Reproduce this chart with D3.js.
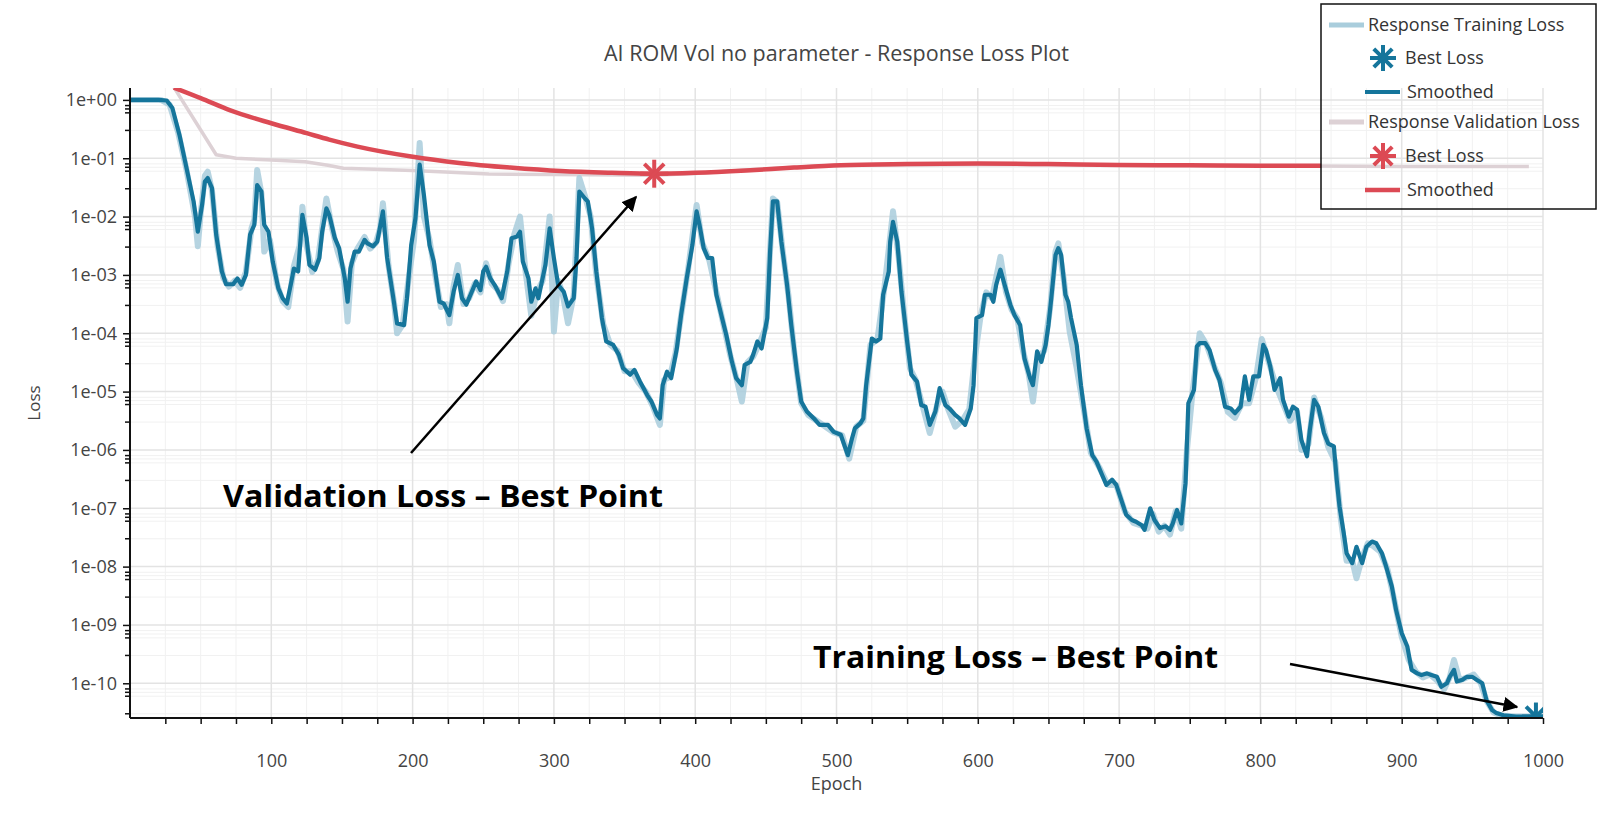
<!DOCTYPE html>
<html>
<head>
<meta charset="utf-8">
<script src="https://cdn.jsdelivr.net/npm/d3@7"></script>
<style>
  html, body { margin: 0; padding: 0; background: #fff; }
  svg { display: block; font-family: 'Open Sans', 'Noto Sans', sans-serif; }
</style>
</head>
<body>
<svg id="chart"></svg>
<script>
// ---- data (loss values stored as log10) ----
const trainEpochs = [0, 10, 20, 26, 30, 35, 40, 45, 48, 51, 53, 55, 58, 61, 65, 68, 73, 76, 79, 82, 85, 88, 90, 93, 95, 98, 101, 105, 108, 111, 114, 116, 119, 122, 125, 127, 131, 134, 136, 139, 141, 145, 148, 152, 154, 156, 159, 162, 166, 168, 172, 175, 179, 182, 186, 189, 194, 196, 199, 202, 205, 208, 212, 215, 219, 222, 226, 229, 232, 235, 238, 241, 245, 248, 250, 252, 255, 258, 263, 267, 270, 274, 276, 278, 282, 284, 287, 289, 291, 294, 297, 300, 303, 307, 310, 314, 316, 318, 322, 324, 327, 330, 334, 337, 342, 346, 349, 354, 357, 361, 366, 369, 373, 375, 377, 380, 383, 387, 390, 394, 398, 401, 403, 406, 409, 412, 415, 419, 422, 426, 429, 433, 435, 439, 441, 444, 447, 451, 453, 455, 458, 461, 465, 468, 472, 475, 479, 484, 488, 494, 498, 503, 508, 511, 513, 517, 519, 521, 525, 528, 531, 533, 537, 538, 540, 543, 546, 550, 553, 557, 560, 563, 566, 570, 573, 577, 580, 584, 587, 591, 595, 597, 599, 603, 605, 609, 611, 613, 616, 619, 623, 626, 630, 633, 637, 639, 642, 645, 648, 650, 652, 655, 657, 659, 662, 664, 666, 670, 673, 677, 681, 684, 688, 691, 695, 698, 702, 705, 709, 712, 716, 718, 722, 725, 729, 733, 736, 738, 741, 744, 747, 749, 753, 755, 757, 761, 764, 768, 771, 775, 779, 782, 786, 789, 792, 795, 799, 802, 804, 807, 810, 814, 816, 820, 823, 826, 829, 833, 835, 838, 841, 845, 848, 852, 854, 856, 859, 861, 865, 868, 872, 875, 879, 882, 886, 889, 893, 896, 900, 904, 907, 911, 914, 918, 921, 925, 928, 932, 934, 937, 939, 943, 946, 950, 953, 957, 960, 964, 967, 972, 981, 991, 1000];
const trainSmoothLog = [0, 0, 0, -0.01, -0.14, -0.6, -1.17, -1.74, -2.26, -1.8, -1.4, -1.34, -1.51, -2.31, -2.94, -3.16, -3.16, -3.06, -3.17, -3.0, -2.31, -2.14, -1.46, -1.57, -2.14, -2.26, -2.77, -3.23, -3.4, -3.49, -3.14, -2.89, -2.94, -1.97, -2.37, -2.83, -2.91, -2.71, -2.26, -1.86, -1.97, -2.37, -2.54, -3.06, -3.46, -2.89, -2.6, -2.6, -2.4, -2.46, -2.51, -2.43, -1.91, -2.71, -3.34, -3.83, -3.86, -3.4, -2.49, -2.03, -1.11, -1.63, -2.49, -2.77, -3.46, -3.49, -3.69, -3.29, -3.0, -3.4, -3.51, -3.34, -3.11, -3.26, -2.94, -2.86, -3.06, -3.17, -3.4, -2.94, -2.37, -2.34, -2.26, -2.77, -3.06, -3.46, -3.23, -3.4, -3.17, -2.83, -2.2, -2.71, -3.17, -3.29, -3.54, -3.4, -2.71, -1.57, -1.69, -1.74, -2.2, -2.94, -3.74, -4.14, -4.2, -4.37, -4.6, -4.71, -4.63, -4.83, -5.06, -5.17, -5.4, -5.46, -4.89, -4.66, -4.77, -4.26, -3.69, -3.06, -2.49, -1.91, -2.14, -2.54, -2.71, -2.71, -3.34, -3.74, -4.03, -4.49, -4.77, -4.89, -4.54, -4.49, -4.37, -4.14, -4.26, -3.74, -2.6, -1.74, -1.74, -2.43, -3.17, -3.86, -4.66, -5.17, -5.34, -5.46, -5.57, -5.57, -5.69, -5.74, -6.09, -5.8, -5.63, -5.54, -5.46, -4.89, -4.09, -4.14, -4.09, -3.34, -2.94, -2.43, -2.09, -2.43, -3.29, -4.14, -4.71, -4.83, -5.23, -5.26, -5.57, -5.34, -4.94, -5.23, -5.29, -5.4, -5.46, -5.57, -5.29, -4.89, -3.74, -3.69, -3.34, -3.34, -3.46, -3.17, -2.91, -3.17, -3.51, -3.69, -3.86, -4.43, -4.77, -4.89, -4.31, -4.49, -4.2, -3.86, -3.4, -2.66, -2.54, -2.66, -3.34, -3.46, -3.74, -4.2, -4.89, -5.63, -6.09, -6.2, -6.43, -6.6, -6.51, -6.6, -6.89, -7.11, -7.2, -7.23, -7.29, -7.37, -7.0, -7.2, -7.34, -7.31, -7.37, -7.26, -7.03, -7.26, -6.57, -5.2, -4.97, -4.23, -4.17, -4.17, -4.29, -4.63, -4.8, -5.26, -5.29, -5.37, -5.26, -4.74, -5.14, -4.74, -4.74, -4.2, -4.29, -4.57, -4.97, -4.77, -5.14, -5.43, -5.26, -5.31, -5.83, -6.11, -5.66, -5.14, -5.26, -5.71, -5.89, -5.94, -6.51, -6.97, -7.43, -7.77, -7.94, -7.66, -7.94, -7.66, -7.57, -7.6, -7.77, -8.0, -8.34, -8.74, -9.14, -9.37, -9.77, -9.83, -9.86, -9.83, -9.86, -9.89, -10.06, -10.0, -9.89, -9.77, -9.97, -9.94, -9.89, -9.89, -9.94, -10.0, -10.29, -10.46, -10.51, -10.55, -10.57, -10.57, -10.57];

const trainRawEpochs = [0, 22, 28, 34, 40, 46, 48, 50, 53, 55, 58, 62, 66, 70, 74, 78, 82, 86, 88, 90, 93, 95, 99, 104, 108, 112, 116, 120, 122, 125, 129, 133, 136, 139, 143, 147, 151, 154, 157, 161, 166, 170, 174, 177, 179, 183, 187, 189, 193, 197, 201, 205, 208, 212, 216, 220, 224, 226, 229, 232, 236, 240, 244, 248, 252, 256, 260, 264, 268, 272, 276, 280, 284, 288, 292, 297, 300, 303, 306, 310, 314, 318, 322, 326, 330, 335, 340, 345, 350, 355, 360, 365, 370, 375, 378, 382, 386, 390, 395, 401, 405, 410, 415, 420, 425, 430, 433, 437, 441, 445, 450, 455, 458, 462, 466, 470, 475, 480, 486, 492, 498, 504, 509, 514, 519, 524, 529, 534, 540, 544, 548, 552, 556, 561, 566, 571, 575, 579, 584, 589, 594, 598, 602, 606, 610, 616, 620, 624, 628, 632, 636, 639, 643, 647, 651, 655, 657, 661, 665, 670, 675, 680, 686, 692, 698, 704, 710, 716, 720, 724, 728, 732, 736, 740, 744, 748, 752, 757, 762, 767, 772, 777, 782, 787, 792, 797, 801, 806, 811, 816, 821, 826, 829, 834, 838, 843, 848, 853, 857, 861, 865, 868, 872, 876, 880, 885, 890, 895, 900, 905, 910, 915, 920, 925, 930, 934, 937, 941, 946, 951, 956, 960, 965, 970, 980, 990, 1000];
const trainRawLog = [0, 0, -0.08, -0.55, -1.2, -2.0, -2.51, -1.95, -1.3, -1.23, -1.55, -2.5, -3.05, -3.2, -3.1, -3.22, -2.95, -2.2, -2.05, -1.2, -1.6, -2.6, -2.4, -3.15, -3.45, -3.55, -2.85, -2.5, -1.83, -2.5, -2.95, -2.75, -2.2, -1.69, -2.2, -2.6, -2.9, -3.8, -2.8, -2.55, -2.35, -2.55, -2.45, -2.2, -1.77, -2.85, -3.5, -4.0, -3.85, -3.1, -2.4, -0.74, -2.0, -2.4, -3.0, -3.55, -3.5, -3.83, -3.2, -2.83, -3.5, -3.4, -3.15, -3.3, -2.8, -3.15, -3.25, -3.45, -2.8, -2.3, -2.0, -2.95, -3.7, -3.3, -3.1, -2.0, -3.97, -3.1, -3.3, -3.83, -3.35, -1.34, -1.65, -2.0, -3.0, -3.85, -4.2, -4.3, -4.65, -4.65, -4.85, -5.0, -5.25, -5.57, -4.8, -4.75, -4.35, -3.7, -2.9, -1.8, -2.45, -2.75, -3.3, -3.85, -4.4, -4.85, -5.17, -4.5, -4.4, -4.2, -3.9, -1.69, -1.75, -2.6, -3.35, -4.3, -5.2, -5.4, -5.5, -5.6, -5.7, -5.75, -6.15, -5.6, -5.5, -4.2, -4.1, -3.2, -1.91, -2.7, -3.7, -4.6, -4.8, -5.25, -5.71, -5.25, -5.0, -5.3, -5.6, -5.5, -5.3, -4.4, -3.7, -3.3, -3.4, -2.69, -3.3, -3.6, -3.75, -4.3, -4.7, -5.17, -4.4, -4.3, -3.6, -2.6, -2.46, -3.1, -3.97, -4.6, -5.3, -6.05, -6.3, -6.6, -6.6, -7.05, -7.25, -7.3, -7.35, -7.1, -7.4, -7.3, -7.45, -7.05, -7.35, -6.0, -5.0, -4.0, -4.2, -4.55, -4.85, -5.35, -5.45, -5.2, -5.2, -4.75, -4.1, -4.5, -4.9, -5.2, -5.5, -5.35, -6.0, -5.9, -5.1, -5.45, -5.95, -6.2, -7.2, -7.9, -7.9, -8.2, -7.85, -7.6, -7.65, -7.75, -8.05, -8.6, -9.2, -9.6, -9.8, -9.9, -9.85, -9.95, -10.1, -9.9, -9.6, -9.95, -9.9, -9.85, -10.0, -10.3, -10.5, -10.55, -10.57, -10.57, -10.57];

const valRawEpochs = [31, 61, 75, 100, 124, 140, 151, 200, 254, 300, 370, 400, 450, 500, 600, 700, 800, 900, 990];
const valRawLog = [0.22, -0.94, -1.0, -1.03, -1.06, -1.12, -1.17, -1.21, -1.27, -1.28, -1.29, -1.26, -1.18, -1.12, -1.11, -1.12, -1.13, -1.14, -1.14];

const valSmoothEpochs = [31, 50, 71, 100, 125, 141, 161, 199, 233, 269, 305, 341, 371, 400, 436, 470, 503, 550, 600, 650, 700, 750, 800, 843];
const valSmoothLog = [0.21, 0.03, -0.18, -0.4, -0.57, -0.68, -0.8, -0.97, -1.08, -1.16, -1.22, -1.25, -1.265, -1.25, -1.21, -1.16, -1.12, -1.1, -1.09, -1.1, -1.115, -1.12, -1.13, -1.13];

const bestTrain = { epoch: 995, log: -10.57 };
const bestVal = { epoch: 371, log: -1.265 };

const xMajorTicks = [100, 200, 300, 400, 500, 600, 700, 800, 900, 1000];
const yDecades = [0, -1, -2, -3, -4, -5, -6, -7, -8, -9, -10];
const yMinorMantissas = [3, 6, 7, 8];

const colors = {
  trainRaw: '#a9cddc',
  train: '#15759b',
  valRaw: '#ddd1d5',
  val: '#dc4a54',
  grid: '#e3e3e3',
  gridMinor: '#f1f1f1',
  text: '#444',
};

// ---- chart ----
const width = 1600;
const height = 813;
const plot = { left: 130, right: 1543, top: 88, bottom: 718 };

const svg = d3.select('#chart').attr('width', width).attr('height', height);

const x = d3.scaleLinear().domain([0, 1000]).range([plot.left, plot.right]);
const y = d3.scaleLog().domain([2.54e-11, 1.6]).range([plot.bottom, plot.top]);

const minorY = [];
yDecades.forEach((d) => {
  yMinorMantissas.forEach((m) => {
    const v = m * Math.pow(10, d - 1);
    if (v >= y.domain()[0] && v <= y.domain()[1]) minorY.push(v);
  });
});
const majorY = yDecades.map((d) => Math.pow(10, d));
const minorX = d3.range(25, 1001, 25).filter((v) => v % 100 !== 0);

svg.append('defs')
  .append('clipPath')
  .attr('id', 'plotClip')
  .append('rect')
  .attr('x', plot.left)
  .attr('y', plot.top)
  .attr('width', plot.right - plot.left)
  .attr('height', plot.bottom - plot.top);

// grid
const grid = svg.append('g');
grid.selectAll('.gx-minor').data(minorX).join('line')
  .attr('x1', (d) => x(d)).attr('x2', (d) => x(d))
  .attr('y1', plot.top).attr('y2', plot.bottom)
  .attr('stroke', colors.gridMinor).attr('stroke-width', 1);
grid.selectAll('.gy-minor').data(minorY).join('line')
  .attr('x1', plot.left).attr('x2', plot.right)
  .attr('y1', (d) => y(d)).attr('y2', (d) => y(d))
  .attr('stroke', colors.gridMinor).attr('stroke-width', 1);
grid.selectAll('.gx').data(xMajorTicks).join('line')
  .attr('x1', (d) => x(d)).attr('x2', (d) => x(d))
  .attr('y1', plot.top).attr('y2', plot.bottom)
  .attr('stroke', colors.grid).attr('stroke-width', 1.5);
grid.selectAll('.gy').data(majorY).join('line')
  .attr('x1', plot.left).attr('x2', plot.right)
  .attr('y1', (d) => y(d)).attr('y2', (d) => y(d))
  .attr('stroke', colors.grid).attr('stroke-width', 1.5);

// series
const series = svg.append('g').attr('clip-path', 'url(#plotClip)');
const lineOf = (epochs, logs, curve) => d3.line()
  .curve(curve || d3.curveLinear)
  .x((d, i) => x(epochs[i]))
  .y((d, i) => y(Math.pow(10, logs[i])))(logs);

series.append('path')
  .attr('d', lineOf(valRawEpochs, valRawLog))
  .attr('fill', 'none').attr('stroke', colors.valRaw).attr('stroke-width', 3.5)
  .attr('stroke-linejoin', 'round');
series.append('path')
  .attr('d', lineOf(trainRawEpochs, trainRawLog))
  .attr('fill', 'none').attr('stroke', colors.trainRaw).attr('stroke-width', 6)
  .attr('stroke-opacity', 0.85)
  .attr('stroke-linejoin', 'round');
series.append('path')
  .attr('d', lineOf(trainEpochs, trainSmoothLog))
  .attr('fill', 'none').attr('stroke', colors.train).attr('stroke-width', 4.2)
  .attr('stroke-linejoin', 'round');
series.append('path')
  .attr('d', lineOf(valSmoothEpochs, valSmoothLog, d3.curveMonotoneX))
  .attr('fill', 'none').attr('stroke', colors.val).attr('stroke-width', 4.5)
  .attr('stroke-linejoin', 'round');

function drawAsterisk(g, cx, cy, r, color, sw) {
  [0, 45, 90, 135].forEach((a) => {
    const rad = (a * Math.PI) / 180;
    g.append('line')
      .attr('x1', cx - r * Math.cos(rad)).attr('y1', cy - r * Math.sin(rad))
      .attr('x2', cx + r * Math.cos(rad)).attr('y2', cy + r * Math.sin(rad))
      .attr('stroke', color).attr('stroke-width', sw).attr('stroke-linecap', 'butt');
  });
}
drawAsterisk(series, x(bestVal.epoch), y(Math.pow(10, bestVal.log)), 14, colors.val, 4);
drawAsterisk(series, x(bestTrain.epoch), y(Math.pow(10, bestTrain.log)), 14, colors.train, 4);

// axes
const tickFont = "'Open Sans', sans-serif";
const xAxis = svg.append('g')
  .attr('transform', `translate(0,${plot.bottom})`)
  .call(d3.axisBottom(x).tickValues(d3.range(25, 1001, 25)).tickSize(6)
    .tickFormat((d) => (d % 100 === 0 ? d : '')));
xAxis.select('.domain').attr('stroke', '#111').attr('stroke-width', 2)
  .attr('d', `M${plot.left},0H${plot.right}`);
xAxis.selectAll('.tick line').attr('stroke', '#111').attr('stroke-width', 1.5);
xAxis.selectAll('.tick text').attr('y', 43).attr('dy', '0.35em')
  .style('font-size', '18px').style('font-family', tickFont).attr('fill', colors.text);

const yAxis = svg.append('g')
  .attr('transform', `translate(${plot.left},0)`)
  .call(d3.axisLeft(y).tickValues(majorY).tickSize(7)
    .tickFormat((d) => d3.format('.0e')(d).replace(/e([+-])(\d)$/, 'e$10$2')));
yAxis.select('.domain').attr('stroke', '#111').attr('stroke-width', 2)
  .attr('d', `M0,${plot.top}V${plot.bottom}`);
yAxis.selectAll('.tick line').attr('stroke', '#111').attr('stroke-width', 1.5);
yAxis.selectAll('.tick text').attr('x', -13)
  .style('font-size', '18px').style('font-family', tickFont).attr('fill', colors.text);

svg.append('g').selectAll('line').data(minorY).join('line')
  .attr('x1', plot.left - 5).attr('x2', plot.left)
  .attr('y1', (d) => y(d)).attr('y2', (d) => y(d))
  .attr('stroke', '#111').attr('stroke-width', 1.5);

// titles
svg.append('text')
  .attr('x', (plot.left + plot.right) / 2).attr('y', 53).attr('dy', '0.35em')
  .attr('text-anchor', 'middle').attr('fill', colors.text)
  .style('font-size', '21.5px')
  .text('AI ROM Vol no parameter - Response Loss Plot');
svg.append('text')
  .attr('x', (plot.left + plot.right) / 2).attr('y', 784).attr('dy', '0.35em')
  .attr('text-anchor', 'middle').attr('fill', colors.text)
  .style('font-size', '18px')
  .text('Epoch');
svg.append('text')
  .attr('transform', `translate(34,${(plot.top + plot.bottom) / 2}) rotate(-90)`)
  .attr('text-anchor', 'middle').attr('dy', '0.35em').attr('fill', colors.text)
  .style('font-size', '17px')
  .text('Loss');

// legend
const legend = svg.append('g');
legend.append('rect')
  .attr('x', 1321).attr('y', 4).attr('width', 275).attr('height', 205)
  .attr('fill', 'none').attr('stroke', '#111').attr('stroke-width', 1.5);
const legendRows = [
  { label: 'Response Training Loss', kind: 'line', color: colors.trainRaw, x0: 1329, x1: 1364, tx: 1368, y: 25, w: 5 },
  { label: 'Best Loss', kind: 'star', color: colors.train, x0: 1383, tx: 1405, y: 58 },
  { label: 'Smoothed', kind: 'line', color: colors.train, x0: 1365, x1: 1400, tx: 1407, y: 92, w: 4 },
  { label: 'Response Validation Loss', kind: 'line', color: colors.valRaw, x0: 1329, x1: 1364, tx: 1368, y: 122, w: 5 },
  { label: 'Best Loss', kind: 'star', color: colors.val, x0: 1383, tx: 1405, y: 156 },
  { label: 'Smoothed', kind: 'line', color: colors.val, x0: 1365, x1: 1400, tx: 1407, y: 190, w: 4.5 },
];
legendRows.forEach((r) => {
  if (r.kind === 'line') {
    legend.append('line')
      .attr('x1', r.x0).attr('x2', r.x1).attr('y1', r.y).attr('y2', r.y)
      .attr('stroke', r.color).attr('stroke-width', r.w);
  } else {
    drawAsterisk(legend, r.x0, r.y, 13, r.color, 4);
  }
  legend.append('text')
    .attr('x', r.tx).attr('y', r.y).attr('dy', '0.35em')
    .attr('fill', '#333').style('font-size', '18px')
    .text(r.label);
});

// annotations
const defs = svg.select('defs');
defs.append('marker')
  .attr('id', 'arrowHead')
  .attr('viewBox', '0 0 10 10')
  .attr('refX', 9).attr('refY', 5)
  .attr('markerWidth', 6).attr('markerHeight', 6)
  .attr('orient', 'auto')
  .append('path').attr('d', 'M0,0L10,5L0,10Z').attr('fill', '#000');

svg.append('line')
  .attr('x1', 411).attr('y1', 453).attr('x2', 636).attr('y2', 197)
  .attr('stroke', '#000').attr('stroke-width', 2.5).attr('marker-end', 'url(#arrowHead)');
svg.append('line')
  .attr('x1', 1290).attr('y1', 664).attr('x2', 1517).attr('y2', 707)
  .attr('stroke', '#000').attr('stroke-width', 2.5).attr('marker-end', 'url(#arrowHead)');

const noteFont = "'Open Sans', sans-serif";
svg.append('text')
  .attr('x', 223).attr('y', 507)
  .attr('textLength', 440).attr('lengthAdjust', 'spacingAndGlyphs')
  .style('font-family', noteFont).style('font-weight', 700).style('font-size', '30px')
  .attr('fill', '#000')
  .text('Validation Loss – Best Point');
svg.append('text')
  .attr('x', 813).attr('y', 668)
  .attr('textLength', 405).attr('lengthAdjust', 'spacingAndGlyphs')
  .style('font-family', noteFont).style('font-weight', 700).style('font-size', '30px')
  .attr('fill', '#000')
  .text('Training Loss – Best Point');
</script>
</body>
</html>
